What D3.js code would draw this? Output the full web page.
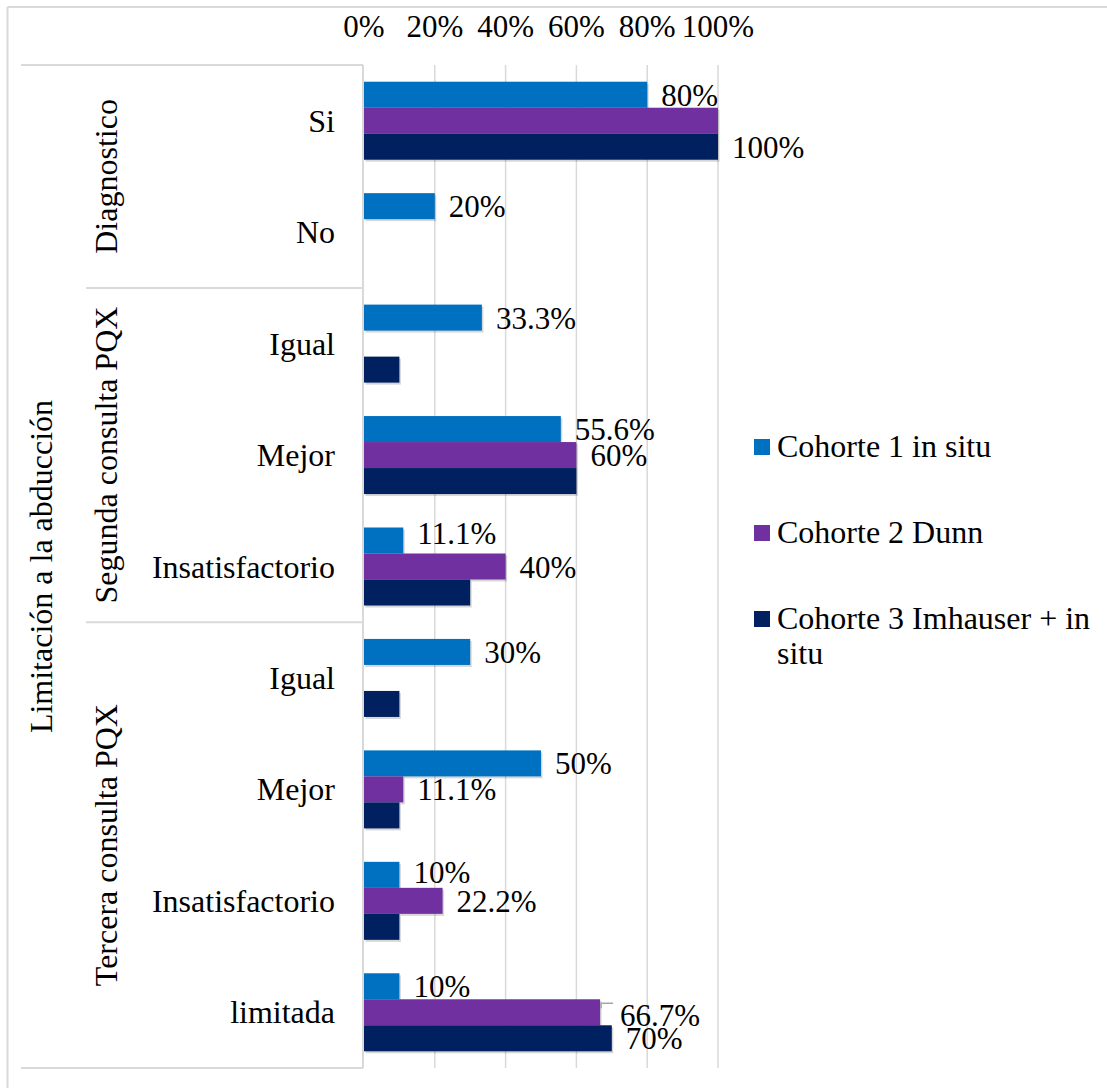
<!DOCTYPE html>
<html lang="es">
<head>
<meta charset="utf-8">
<script src="https://cdn.jsdelivr.net/npm/d3@7"></script>
<style>
  html, body { margin: 0; padding: 0; background: #fff; }
  svg { display: block; }
</style>
</head>
<body>
<script>
// ---------- Data ----------
const categories = ["Si", "No", "Igual", "Mejor", "Insatisfactorio", "Igual", "Mejor", "Insatisfactorio", "limitada"];
const groupNames = ["Diagnostico", "Segunda consulta PQX", "Tercera consulta PQX"];
const groupSizes = [2, 3, 4];
const outerTitle = "Limitación a la abducción";
const seriesNames = ["Cohorte 1 in situ", "Cohorte 2 Dunn", "Cohorte 3 Imhauser + in situ"];
const cohorte1 = [80, 20, 33.3, 55.6, 11.1, 30, 50, 10, 10];
const cohorte2 = [100, 0, 0, 60, 40, 0, 11.1, 22.2, 66.7];
const cohorte3 = [100, 0, 10, 60, 30, 10, 10, 10, 70];
// Visible data labels (null = label not shown in the original)
const labels1 = ["80%", "20%", "33.3%", "55.6%", "11.1%", "30%", "50%", "10%", "10%"];
const labels2 = [null, null, null, "60%", "40%", null, "11.1%", "22.2%", "66.7%"];
const labels3 = ["100%", null, null, null, null, null, null, null, "70%"];
const tickValues = [0, 20, 40, 60, 80, 100];
const tickLabels = ["0%", "20%", "40%", "60%", "80%", "100%"];

// ---------- Layout ----------
const FONT = '"Liberation Serif", "Times New Roman", "DejaVu Serif"';
const W = 1107, H = 1088;
const colors = ["#0070C0", "#7030A0", "#002060"];
const gridColor = "#d9d9d9";
const plotTop = 65, plotBottom = 1068;
const series = [cohorte1, cohorte2, cohorte3];
const labelSets = [labels1, labels2, labels3];

const svg = d3.select("body").append("svg").attr("width", W).attr("height", H);

function txt(sel) {
  return sel.style("font-family", FONT).attr("fill", "#000");
}

// outer frame (cropped)
svg.append("line").attr("x1", 7.5).attr("x2", W).attr("y1", 7).attr("y2", 7)
  .attr("stroke", gridColor).attr("stroke-width", 2);
svg.append("line").attr("x1", 7.5).attr("x2", 7.5).attr("y1", 7).attr("y2", H)
  .attr("stroke", gridColor).attr("stroke-width", 2);

const x = d3.scaleLinear().domain([0, 100]).range([364, 718]);
const y = d3.scaleBand().domain(d3.range(categories.length)).range([plotTop, plotBottom])
  .paddingInner(0.3).paddingOuter(0.15);
const ys = d3.scaleBand().domain(d3.range(series.length)).range([0, y.bandwidth()]);
const step = y.step();

// gridlines
svg.append("g").selectAll("line").data(tickValues.slice(1)).join("line")
  .attr("x1", d => x(d)).attr("x2", d => x(d))
  .attr("y1", plotTop).attr("y2", plotBottom)
  .attr("stroke", gridColor).attr("stroke-width", 1.5);

// top tick labels (positions from the scale)
txt(svg.append("g").selectAll("text").data(tickValues).join("text")
  .attr("x", d => x(d))
  .attr("y", 37)
  .attr("text-anchor", "middle")
  .attr("font-size", 31)
  .text((d, i) => tickLabels[i]));

// category axis frame lines
const frame = svg.append("g").attr("stroke", gridColor).attr("stroke-width", 2);
frame.append("line").attr("x1", 363).attr("x2", 363).attr("y1", plotTop).attr("y2", plotBottom);
frame.append("line").attr("x1", 21).attr("x2", 363).attr("y1", plotTop).attr("y2", plotTop);
frame.append("line").attr("x1", 21).attr("x2", 363).attr("y1", plotBottom).attr("y2", plotBottom);
let cum = 0;
const groupBounds = groupSizes.map(n => { const s = cum; cum += n; return [s, cum]; });
groupBounds.slice(1).forEach(([s]) => {
  const yy = plotTop + s * step;
  frame.append("line").attr("x1", 86).attr("x2", 363).attr("y1", yy).attr("y2", yy);
});

// bar shadows (soft offset copies) then bars
const barData = series.map((vals, si) => vals.map((v, i) => ({ v, i, si })).filter(d => d.v > 0));
const shadows = svg.append("g");
barData.forEach(arr => {
  shadows.selectAll(null).data(arr).join("rect")
    .attr("x", x(0) + 1.5)
    .attr("y", d => y(d.i) + ys(d.si) + 2)
    .attr("width", d => x(d.v) - x(0))
    .attr("height", ys.bandwidth())
    .attr("fill", "#000").attr("opacity", 0.16);
});
const bars = svg.append("g");
barData.forEach(arr => {
  bars.selectAll(null).data(arr).join("rect")
    .attr("x", x(0))
    .attr("y", d => y(d.i) + ys(d.si))
    .attr("width", d => x(d.v) - x(0))
    .attr("height", ys.bandwidth())
    .attr("fill", d => colors[d.si]);
});

// data labels
const nudges = { "0-4": [0, -7], "0-7": [0, -3], "1-8": [6, 3] };
const lg = svg.append("g");
labelSets.forEach((labs, si) => {
  labs.forEach((t, i) => {
    if (!t) return;
    const v = series[si][i];
    const nd = nudges[si + "-" + i] || [0, 0];
    const cy = y(i) + ys(si) + ys.bandwidth() / 2;
    txt(lg.append("text")
      .attr("x", x(v) + 14 + nd[0])
      .attr("y", cy + 11 + nd[1])
      .attr("font-size", 31)
      .text(t));
    if (si === 1 && i === 8) {
      lg.append("polyline")
        .attr("points", [[x(v) + 1, cy - 4], [x(v) + 1, cy - 9], [x(v) + 13, cy - 9]].map(p => p.join(",")).join(" "))
        .attr("fill", "none").attr("stroke", "#a6a6a6").attr("stroke-width", 1.5);
    }
  });
});

// category labels
txt(svg.append("g").selectAll("text").data(categories).join("text")
  .attr("x", 335)
  .attr("y", (d, i) => y(i) + y.bandwidth() / 2 + 11)
  .attr("text-anchor", "end")
  .attr("font-size", 32)
  .text(d => d));

// group labels (rotated)
groupBounds.forEach(([s, e], gi) => {
  const cy = plotTop + (s + e) / 2 * step;
  txt(svg.append("text")
    .attr("transform", `translate(117,${cy}) rotate(-90)`)
    .attr("text-anchor", "middle")
    .attr("font-size", 32)
    .text(groupNames[gi]));
});
txt(svg.append("text")
  .attr("transform", `translate(52,${(plotTop + plotBottom) / 2}) rotate(-90)`)
  .attr("text-anchor", "middle")
  .attr("font-size", 32)
  .text(outerTitle));

// legend (wrap long names)
const legend = svg.append("g");
const legTop = 439, legStep = 86, legMaxW = 322, charW = 32 * 0.5;
seriesNames.forEach((name, i) => {
  const gy = legTop + i * legStep;
  legend.append("rect").attr("x", 754).attr("y", gy).attr("width", 16).attr("height", 16).attr("fill", colors[i]);
  const t = txt(legend.append("text").attr("x", 777).attr("y", gy + 17.5).attr("font-size", 32));
  const words = name.split(" ");
  const lines = [];
  let cur = [];
  words.forEach(w => {
    const test = cur.concat([w]).join(" ");
    if (test.length * charW * 0.8 > legMaxW && cur.length) { lines.push(cur.join(" ")); cur = [w]; }
    else cur.push(w);
  });
  lines.push(cur.join(" "));
  lines.forEach((ln, li) => {
    t.append("tspan").attr("x", 777).attr("dy", li ? 35 : 0).text(ln);
  });
});
</script>
</body>
</html>
